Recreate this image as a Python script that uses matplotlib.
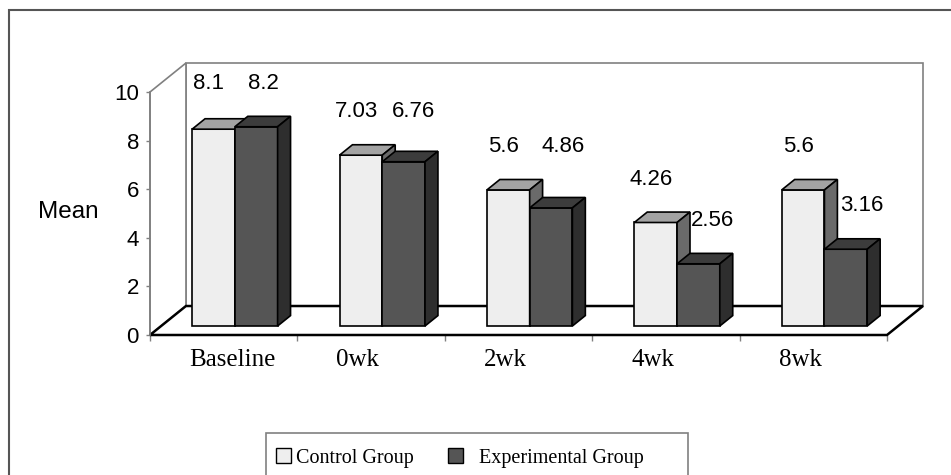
import matplotlib
matplotlib.use("Agg")
import matplotlib.pyplot as plt
from matplotlib.patches import Polygon, Rectangle

# ---- data ----
categories = ["Baseline", "0wk", "2wk", "4wk", "8wk"]
control = [8.1, 7.03, 5.6, 4.26, 5.6]
experimental = [8.2, 6.76, 4.86, 2.56, 3.16]
yticks = [0, 2, 4, 6, 8, 10]
series_names = ["Control Group", "Experimental Group"]

W, H = 951, 475
fig = plt.figure(figsize=(W / 100, H / 100), dpi=100)

def fx(px):
    return px / W

def fy(py):
    return 1 - py / H

# front plane of the 3-D box: x 150..887 px, y 335 (0) .. 92 (10)
ax = fig.add_axes([fx(150), fy(335), fx(887) - fx(150), fy(92) - fy(335)])
ax.set_xlim(-0.5, len(categories) - 0.5)
ax.set_ylim(0, 10)
ax.patch.set_visible(False)
for s in ["top", "right", "bottom"]:
    ax.spines[s].set_visible(False)
ax.spines["left"].set_color("#808080")
ax.spines["left"].set_linewidth(1.2)
ax.spines["left"].set_zorder(3)

# depth vector (data units)
DX, DY = 0.244, 1.193
x_lo, x_hi = -0.5, len(categories) - 0.5

def poly(pts, fc, ec, lw, z):
    p = Polygon(pts, closed=True, facecolor=fc, edgecolor=ec, linewidth=lw,
                zorder=z, clip_on=False, joinstyle="miter")
    ax.add_patch(p)

# back wall
poly([(x_lo + DX, DY), (x_hi + DX, DY), (x_hi + DX, 10 + DY), (x_lo + DX, 10 + DY)],
     "white", "#808080", 1.2, 1)
# left wall
poly([(x_lo, 0), (x_lo + DX, DY), (x_lo + DX, 10 + DY), (x_lo, 10)],
     "white", "#808080", 1.2, 1.1)
# floor
poly([(x_lo, 0), (x_hi, 0), (x_hi + DX, DY), (x_lo + DX, DY)],
     "white", "black", 1.8, 2)

# bars
F, B = 0.31, 0.36   # front offset and bar depth (fractions of depth)
BW = 0.29
styles = [("#EEEEEE", "#A3A3A3", "#6A6A6A"), ("#555555", "#3C3C3C", "#2E2E2E")]
for i in range(len(categories)):
    for k, vals in enumerate([control, experimental]):
        v = vals[i]
        front, top, side = styles[k]
        x0 = i - BW + k * BW + F * DX
        y0 = F * DY
        z = 4 + i * 0.1 + k * 0.05
        poly([(x0, y0), (x0 + BW, y0), (x0 + BW, y0 + v), (x0, y0 + v)], front, "black", 1.2, z)
        poly([(x0, y0 + v), (x0 + BW, y0 + v), (x0 + BW + B * DX, y0 + v + B * DY),
              (x0 + B * DX, y0 + v + B * DY)], top, "black", 1.2, z)
        poly([(x0 + BW, y0), (x0 + BW + B * DX, y0 + B * DY), (x0 + BW + B * DX, y0 + v + B * DY),
              (x0 + BW, y0 + v)], side, "black", 1.2, z)

# value labels
for i in range(len(categories)):
    c, e = control[i], experimental[i]
    if abs(c - e) < 1.0:
        yc = ye = max(c, e)
    else:
        yc, ye = c, e
    ax.text(i - 0.10, yc + 2.15, f"{c:g}", ha="center", va="center", fontsize=16,
            family="Liberation Sans", zorder=10, clip_on=False)
    ax.text(i + 0.27 + 0.015 * i, ye + 2.15, f"{e:g}", ha="center", va="center", fontsize=16,
            family="Liberation Sans", zorder=10, clip_on=False)

# category labels
for i, name in enumerate(categories):
    ax.text(i - 0.235, -1.26, name, ha="left", va="baseline", fontsize=18,
            family="Liberation Serif", clip_on=False)

# ticks
ax.set_yticks(yticks)
ax.set_yticklabels([str(t) for t in yticks], fontsize=16, family="Liberation Sans")
ax.tick_params(axis="y", direction="out", length=3, width=1, color="#808080", pad=5)
ax.set_xticks([x_lo + j for j in range(len(categories) + 1)])
ax.set_xticklabels([])
ax.tick_params(axis="x", direction="out", length=4, width=1, color="#808080")

# axis title
fig.text(fx(68), fy(212), "Mean", ha="center", va="center", fontsize=17.5, family="Liberation Sans")

# outer frame
fig.add_artist(Rectangle((fx(9), fy(490)), fx(960) - fx(9), fy(10) - fy(490),
                         transform=fig.transFigure, fill=False, edgecolor="#555555",
                         linewidth=1.5, clip_on=False))

# legend box
fig.add_artist(Rectangle((fx(266), fy(476)), fx(688) - fx(266), fy(433) - fy(476),
                         transform=fig.transFigure, fill=False, edgecolor="#808080",
                         linewidth=1.2))
sq = 15
for (x_sq, x_txt, name, col) in [(276, 296, series_names[0], styles[0][0]),
                                 (448, 479, series_names[1], styles[1][0])]:
    fig.add_artist(Rectangle((fx(x_sq), fy(463)), fx(sq), fy(448) - fy(463),
                             transform=fig.transFigure, facecolor=col,
                             edgecolor="black", linewidth=1.0))
    fig.text(fx(x_txt), fy(463), name, ha="left", va="baseline", fontsize=14.5,
             family="Liberation Serif")

fig.savefig("out.png", dpi=100)
